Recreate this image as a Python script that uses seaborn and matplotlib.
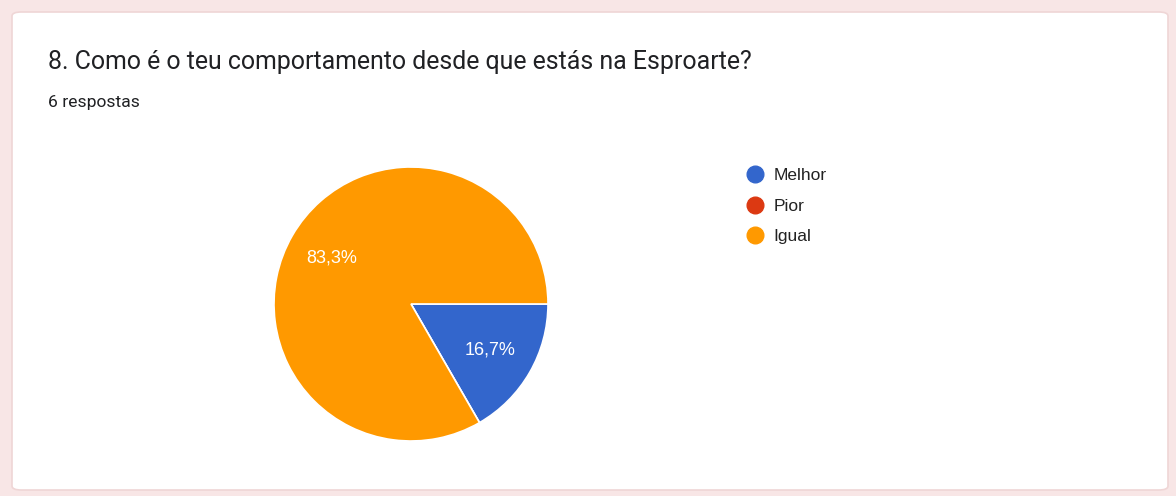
import matplotlib
matplotlib.use("Agg")
import matplotlib.pyplot as plt
import seaborn as sns
from matplotlib.patches import FancyBboxPatch
from matplotlib.lines import Line2D

# ---- data ----
categories = ["Melhor", "Pior", "Igual"]
values = [1, 0, 5]
colors = ["#3366cc", "#dc3912", "#ff9900"]
title = "8. Como é o teu comportamento desde que estás na Esproarte?"
subtitle = "6 respostas"

sns.set_style("white")
plt.rcParams["font.family"] = ["Roboto", "DejaVu Sans"]

W, H = 1176, 496
fig = plt.figure(figsize=(W / 100, H / 100), dpi=100)
fig.patch.set_facecolor("#f8e6e6")

# card
card = FancyBboxPatch((12 / W, 6 / H), (1156) / W, (478) / H,
                      boxstyle="round,pad=0,rounding_size=0.008",
                      transform=fig.transFigure, facecolor="white",
                      edgecolor="#efd6d6", linewidth=1.2, zorder=-10)
fig.patches.append(card)

fig.text(48 / W, 1 - 62 / H, title, fontsize=17.95, color="#202124",
         va="center", ha="left", family=["Roboto", "DejaVu Sans"])
fig.text(48 / W, 1 - 103 / H, subtitle, fontsize=12.6, color="#202124",
         va="center", ha="left", family=["Roboto", "DejaVu Sans"])

# pie
cx, cy, r = 411, 304, 137
ax = fig.add_axes([(cx - r) / W, (H - cy - r) / H, 2 * r / W, 2 * r / H])
ax.set_facecolor("none")
ax.set_zorder(5)


def fmt(p):
    if p < 0.05:
        return ""
    return f"{p:.1f}".replace(".", ",") + "%"


wedges, texts, autotexts = ax.pie(
    values, colors=colors, startangle=0, counterclock=False,
    autopct=fmt, pctdistance=0.67,
    wedgeprops=dict(edgecolor="white", linewidth=1.2),
    textprops=dict(color="white", fontsize=13,
                   family=["Liberation Sans", "DejaVu Sans"]))
ax.set_xlim(-1.0, 1.0)
ax.set_ylim(-1.0, 1.0)
ax.set_aspect("equal")
ax.axis("off")

handles = [Line2D([0], [0], marker="o", linestyle="none", markersize=12,
                  markerfacecolor=c, markeredgecolor=c) for c in colors]
leg = fig.legend(handles, categories, loc="upper left",
                 bbox_to_anchor=(746 / W, 1 - 168 / H), frameon=False,
                 handletextpad=0.6, labelspacing=0.88, borderaxespad=0,
                 borderpad=0, handlelength=1.0,
                 prop=dict(family=["Liberation Sans", "DejaVu Sans"], size=12.5))
for t in leg.get_texts():
    t.set_color("#222222")

fig.savefig("out.png", dpi=100, facecolor=fig.get_facecolor())
